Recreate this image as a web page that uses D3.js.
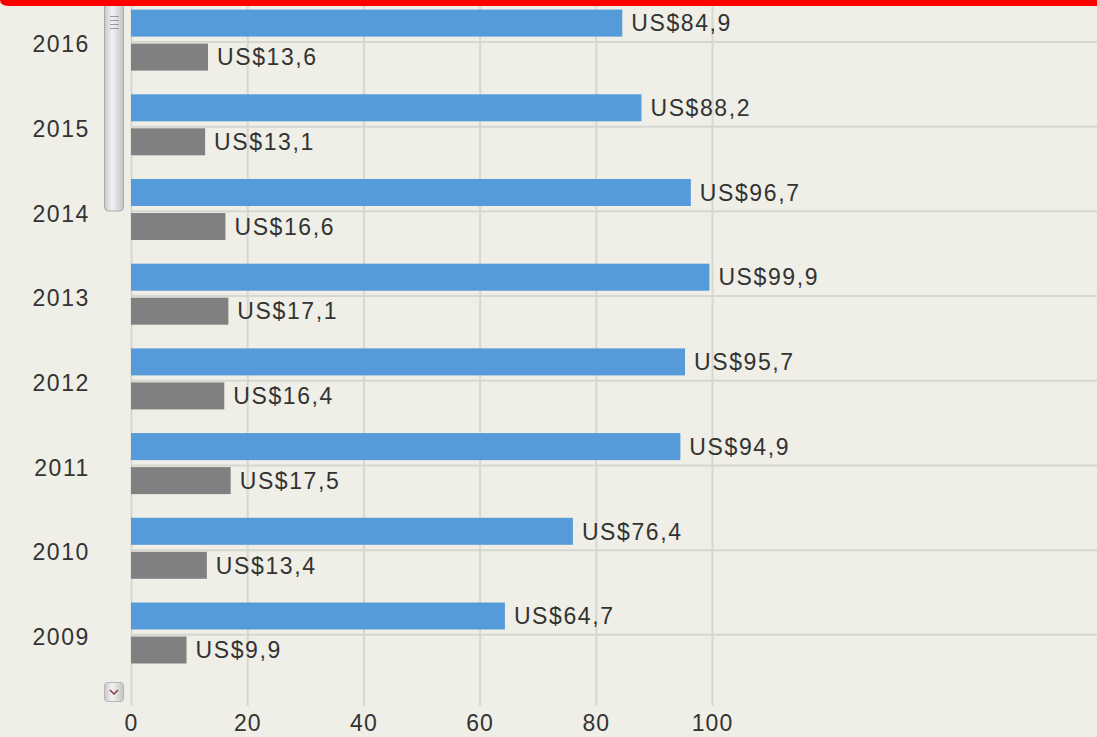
<!DOCTYPE html>
<html>
<head>
<meta charset="utf-8">
<script src="https://cdn.jsdelivr.net/npm/d3@7"></script>
<style>
  html, body { margin: 0; padding: 0; background: #efeee7; overflow: hidden; }
  text { font-family: "Liberation Sans", Arial, sans-serif; fill: #333; }
</style>
</head>
<body>
<div id="chart"></div>
<script>
var w = 1097;
var h = 737;

// data
var years = ["2016", "2015", "2014", "2013", "2012", "2011", "2010", "2009"];
var blueValues = [84.9, 88.2, 96.7, 99.9, 95.7, 94.9, 76.4, 64.7];
var grayValues = [13.6, 13.1, 16.6, 17.1, 16.4, 17.5, 13.4, 9.9];
var xTicks = [0, 20, 40, 60, 80, 100];
var seriesKeys = ["blue", "gray"];
var colors = { blue: "#559ad9", gray: "#808080" };

var rows = years.map((y, i) => ({ year: y, blue: blueValues[i], gray: grayValues[i] }));

var svg = d3.select("#chart")
            .append("svg")
            .attr("width", w)
            .attr("height", h);

// scales
var xScale = d3.scaleLinear()
    .domain([0, 100])
    .range([131, 712]);
var yScale = d3.scaleBand()
    .domain(years)
    .range([-0.4, 677.2]);
var subScale = d3.scaleBand()
    .domain(seriesKeys)
    .range([10, 71])
    .paddingInner(0.206);

// vertical grid
svg.append("g")
    .selectAll("line")
    .data(xTicks)
    .enter()
    .append("line")
    .attr("x1", d => xScale(d) + 0.5)
    .attr("x2", d => xScale(d) + 0.5)
    .attr("y1", 0)
    .attr("y2", 706)
    .attr("stroke", "#d7d7d1")
    .attr("stroke-width", 2);

// horizontal grid at each category centre
svg.append("g")
    .selectAll("line")
    .data(years)
    .enter()
    .append("line")
    .attr("x1", xScale(0))
    .attr("x2", w)
    .attr("y1", d => yScale(d) + yScale.bandwidth() / 2)
    .attr("y2", d => yScale(d) + yScale.bandwidth() / 2)
    .attr("stroke", "#d7d7d1")
    .attr("stroke-width", 2);

// bars
var groups = svg.selectAll(".year")
    .data(rows)
    .enter()
    .append("g")
    .attr("class", "year")
    .attr("transform", d => "translate(0," + yScale(d.year) + ")");

groups.selectAll("rect")
    .data(d => seriesKeys.map(k => ({ key: k, value: d[k] })))
    .enter()
    .append("rect")
    .attr("x", xScale(0))
    .attr("y", d => subScale(d.key))
    .attr("width", d => xScale(d.value) - xScale(0) - 2)
    .attr("height", subScale.bandwidth())
    .style("fill", d => colors[d.key]);

groups.selectAll(".lbl")
    .data(d => seriesKeys.map(k => ({ key: k, value: d[k] })))
    .enter()
    .append("text")
    .attr("class", "lbl")
    .attr("x", d => xScale(d.value) + 7)
    .attr("y", d => subScale(d.key) + subScale.bandwidth() / 2)
    .attr("dy", "0.36em")
    .style("font-size", "23px")
    .style("letter-spacing", "1.6px")
    .text(d => "US$" + d.value.toFixed(1).replace(".", ","));

// year labels
svg.append("g")
    .selectAll("text")
    .data(years)
    .enter()
    .append("text")
    .attr("x", 90)
    .attr("y", d => yScale(d) + yScale.bandwidth() / 2 + 2)
    .attr("dy", "0.36em")
    .attr("text-anchor", "end")
    .style("font-size", "23px")
    .style("letter-spacing", "1.6px")
    .text(d => d);

// x axis labels
var xAxis = d3.axisBottom(xScale)
    .tickValues(xTicks)
    .tickSize(0)
    .tickPadding(0);
var ax = svg.append("g")
    .attr("transform", "translate(0,715)")
    .call(xAxis);
ax.select(".domain").remove();
ax.selectAll("text")
    .attr("dy", "0.71em")
    .style("font-size", "23px")
    .style("letter-spacing", "1px")
    .style("font-family", "\"Liberation Sans\", Arial, sans-serif")
    .attr("fill", "#333");

// scrollbar thumb
var grad = svg.append("defs").append("linearGradient")
    .attr("id", "thumb")
    .attr("x1", "0").attr("x2", "1");
grad.append("stop").attr("offset", "0").attr("stop-color", "#c9c9c9");
grad.append("stop").attr("offset", "0.4").attr("stop-color", "#f2f2f2");
grad.append("stop").attr("offset", "1").attr("stop-color", "#c4c4c4");

svg.append("rect")
    .attr("x", 104.5)
    .attr("y", -10)
    .attr("width", 19)
    .attr("height", 221)
    .attr("rx", 4)
    .attr("fill", "url(#thumb)")
    .attr("stroke", "#a9a9a9");
svg.append("g")
    .selectAll("line")
    .data([16, 20, 24, 28])
    .enter()
    .append("line")
    .attr("x1", 110)
    .attr("x2", 119)
    .attr("y1", d => d + 0.5)
    .attr("y2", d => d + 0.5)
    .attr("stroke", "#9a9a9a");

// scroll down button
svg.append("rect")
    .attr("x", 104.5)
    .attr("y", 682.5)
    .attr("width", 19)
    .attr("height", 19)
    .attr("rx", 3)
    .attr("fill", "url(#thumb)")
    .attr("stroke", "#b5b5b5");
svg.append("path")
    .attr("d", "M110,690 L114,694 L118,690")
    .attr("fill", "none")
    .attr("stroke", "#8b3a3a")
    .attr("stroke-width", 1.5);

// red strip along the top
svg.append("path")
    .attr("d", "M0,0 H" + w + " V6 H10 Q0,6 0,0 Z")
    .attr("fill", "#ff0000");
</script>
</body>
</html>
